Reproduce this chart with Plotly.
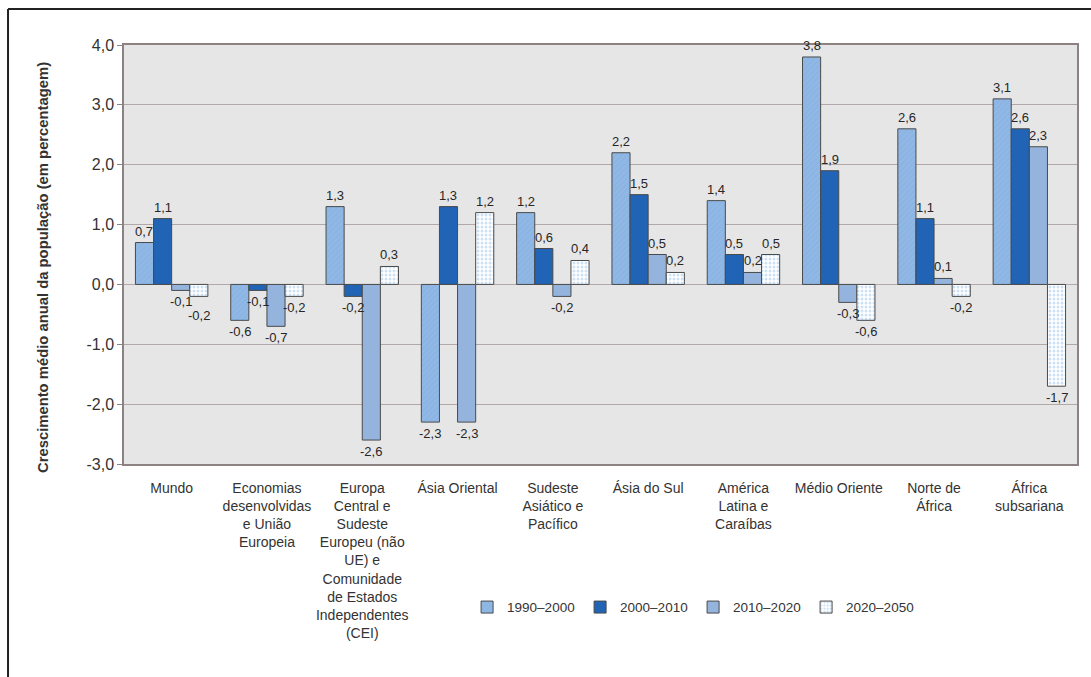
import plotly.graph_objects as go

categories = [
    "Mundo",
    "Economias<br>desenvolvidas<br>e União<br>Europeia",
    "Europa<br>Central e<br>Sudeste<br>Europeu (não<br>UE) e<br>Comunidade<br>de Estados<br>Independentes<br>(CEI)",
    "Ásia Oriental",
    "Sudeste<br>Asiático e<br>Pacífico",
    "Ásia do Sul",
    "América<br>Latina e<br>Caraíbas",
    "Médio Oriente",
    "Norte de<br>África",
    "África<br>subsariana",
]

series_names = ["1990–2000", "2000–2010", "2010–2020", "2020–2050"]
v_1990_2000 = [0.7, -0.6, 1.3, -2.3, 1.2, 2.2, 1.4, 3.8, 2.6, 3.1]
v_2000_2010 = [1.1, -0.1, -0.2, 1.3, 0.6, 1.5, 0.5, 1.9, 1.1, 2.6]
v_2010_2020 = [-0.1, -0.7, -2.6, -2.3, -0.2, 0.5, 0.2, -0.3, 0.1, 2.3]
v_2020_2050 = [-0.2, -0.2, 0.3, 1.2, 0.4, 0.2, 0.5, -0.6, -0.2, -1.7]

y_ticks = [-3, -2, -1, 0, 1, 2, 3, 4]
y_tick_labels = ["-3,0", "-2,0", "-1,0", "0,0", "1,0", "2,0", "3,0", "4,0"]

FONT = "Liberation Sans, Arial, sans-serif"

W, H = 1091, 677
ML, MR, MT, MB = 124, 14, 45, 213
Y_MIN, Y_MAX = -3, 4
BARGAP = 0.24
LABEL_FONT = 13
LABEL_H = 14


def fmt(v):
    return f"{v:.1f}".replace(".", ",")


styles = [
    dict(color="#8cb5e4", pattern=dict(shape="/", bgcolor="#8cb5e4", fgcolor="#a8c8ec", size=4, solidity=0.2)),
    dict(color="#2163b4", pattern=None),
    dict(color="#94b4dd", pattern=None),
    dict(color="#ffffff", pattern=dict(shape=".", bgcolor="#ffffff", fgcolor="#9cc3ea", size=4, solidity=0.45)),
]

all_series = [v_1990_2000, v_2000_2010, v_2010_2020, v_2020_2050]

fig = go.Figure()
for name, vals, st in zip(series_names, all_series, styles):
    marker = dict(color=st["color"], line=dict(color="#4a4a4a", width=1))
    if st["pattern"]:
        marker["pattern"] = st["pattern"]
    fig.add_trace(go.Bar(name=name, x=categories, y=vals, marker=marker))

# value labels placed at bar ends (staggered when adjacent labels would collide)
plot_w = W - ML - MR
plot_h = H - MT - MB
px_per_unit = plot_h / (Y_MAX - Y_MIN)
bar_w = plot_w / len(categories) * (1 - BARGAP) / len(all_series)
annotations = []
for j, cat in enumerate(categories):
    prev = None  # (sign, offset_px) of previous label in group
    for i, vals in enumerate(all_series):
        v = vals[j]
        sign = 1 if v >= 0 else -1
        off = abs(v) * px_per_unit + 2  # distance of label's inner edge from zero line
        if prev is not None and prev[0] == sign and abs(off - prev[1]) < LABEL_H:
            if off >= prev[1]:
                off = prev[1] + LABEL_H
        prev = (sign, off)
        annotations.append(dict(
            x=cat, y=0, xref="x", yref="y", text=fmt(v), showarrow=False,
            xshift=(i - (len(all_series) - 1) / 2) * bar_w,
            yshift=sign * off,
            yanchor="bottom" if sign > 0 else "top",
            font=dict(family=FONT, size=LABEL_FONT, color="#262626"),
        ))

annotations.append(dict(
    text="<b>Crescimento médio anual da população (em percentagem)</b>",
    xref="paper", yref="paper", x=(43 - ML) / plot_w, y=(H - MB - 268) / plot_h,
    textangle=-90, showarrow=False, xanchor="center", yanchor="middle",
    font=dict(family=FONT, size=14.8, color="#333333"),
))

fig.update_layout(
    width=W, height=H,
    margin=dict(l=ML, r=MR, t=MT, b=MB),
    paper_bgcolor="white", plot_bgcolor="#e6e6e6",
    barmode="group", bargap=BARGAP, bargroupgap=0,
    font=dict(family=FONT, color="#333333"),
    showlegend=True,
    legend=dict(orientation="h", x=0.36, y=-0.305, xanchor="left", yanchor="top",
                font=dict(family=FONT, size=13.5, color="#333333"),
                bgcolor="rgba(0,0,0,0)", entrywidth=68, itemwidth=30),
    xaxis=dict(showgrid=False, showline=True, mirror=True, linecolor="#8c8282", linewidth=1.5,
               tickfont=dict(family=FONT, size=14, color="#333333"), ticks="",
               ticklabelstandoff=10, tickangle=0),
    yaxis=dict(range=[Y_MIN, Y_MAX], tickvals=y_ticks, ticktext=y_tick_labels,
               showgrid=True, gridcolor="#b3a8a8", gridwidth=1,
               zeroline=True, zerolinecolor="#b3a8a8", zerolinewidth=1,
               showline=True, mirror=True, linecolor="#8c8282", linewidth=1.5,
               ticks="outside", ticklen=5, tickcolor="#8c8282",
               tickfont=dict(family=FONT, size=16, color="#333333")),
    annotations=annotations,
    shapes=[
        dict(type="line", xref="paper", yref="paper", x0=-0.1217, x1=1.03, y0=1.0859, y1=1.0859,
             line=dict(color="#222222", width=2)),
        dict(type="line", xref="paper", yref="paper", x0=-0.1217, x1=-0.1217, y0=1.0859, y1=-0.6,
             line=dict(color="#222222", width=2)),
    ],
)

fig.write_html("out.html")
